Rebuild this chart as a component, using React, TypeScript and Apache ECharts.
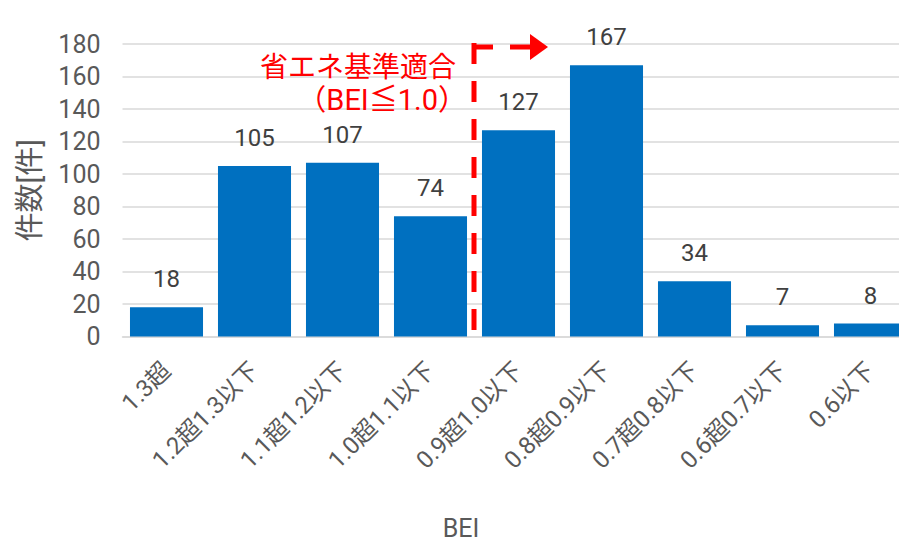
import React, { useEffect, useRef } from "react";
import * as echarts from "echarts";

const categories = [
  "1.3超",
  "1.2超1.3以下",
  "1.1超1.2以下",
  "1.0超1.1以下",
  "0.9超1.0以下",
  "0.8超0.9以下",
  "0.7超0.8以下",
  "0.6超0.7以下",
  "0.6以下",
];
const counts = [18, 105, 107, 74, 127, 167, 34, 7, 8];
const yTicks = { min: 0, max: 180, interval: 20 };
const yAxisName = "件数[件]";
const xAxisName = "BEI";
const noteLines = ["省エネ基準適合", "（BEI≦1.0）"];

const FONT = "Roboto, 'Noto Sans CJK JP', sans-serif";
const RED = "#FF0000";

export default function App() {
  const ref = useRef<HTMLDivElement>(null);
  useEffect(() => {
    document.body.style.margin = "0";
    if (!ref.current) return;
    const chart = echarts.init(ref.current, undefined, { renderer: "svg" });
    chart.setOption({
      animation: false,
      backgroundColor: "#ffffff",
      grid: {
        left: 122.5,
        top: 44,
        width: 792,
        bottom: 205.5,
        containLabel: false,
        outerBoundsMode: "none",
      },
      xAxis: {
        type: "category",
        data: categories,
        axisLine: { show: true, lineStyle: { color: "#d9d9d9", width: 1.5 } },
        axisTick: { show: false },
        axisLabel: {
          rotate: 45,
          interval: 0,
          margin: 30,
          color: "#595959",
          fontSize: 24,
          fontFamily: FONT,
        },
      },
      yAxis: {
        type: "value",
        min: yTicks.min,
        max: yTicks.max,
        interval: yTicks.interval,
        name: yAxisName,
        nameLocation: "middle",
        nameRotate: 90,
        nameGap: 78,
        nameTextStyle: { color: "#595959", fontSize: 29, fontFamily: FONT },
        axisLine: { show: false },
        axisTick: { show: false },
        axisLabel: { color: "#595959", fontSize: 25, fontFamily: FONT, margin: 22 },
        splitLine: { lineStyle: { color: "#d9d9d9", width: 1.5 } },
      },
      series: [
        {
          type: "bar",
          data: counts,
          barCategoryGap: "17%",
          itemStyle: { color: "#0070C0" },
          label: {
            show: true,
            position: "top",
            distance: 16,
            color: "#404040",
            fontSize: 24,
            fontFamily: FONT,
          },
        },
      ],
      graphic: [
        {
          type: "line",
          shape: { x1: 474, y1: 43, x2: 474, y2: 337 },
          style: { stroke: RED, lineWidth: 5, lineDash: [21, 17] },
          z: 100,
        },
        {
          type: "line",
          shape: { x1: 472, y1: 47, x2: 531, y2: 47 },
          style: { stroke: RED, lineWidth: 5, lineDash: [21, 17] },
          z: 100,
        },
        {
          type: "polygon",
          shape: { points: [[530, 34], [548, 47], [530, 60]] },
          style: { fill: RED },
          z: 100,
        },
        {
          type: "text",
          x: 456,
          y: 67,
          style: {
            text: noteLines[0],
            fill: RED,
            fontSize: 28,
            fontFamily: FONT,
            align: "right",
            verticalAlign: "middle",
          },
          z: 100,
        },
        {
          type: "text",
          x: 467,
          y: 100,
          style: {
            text: noteLines[1],
            fill: RED,
            fontSize: 29,
            fontFamily: FONT,
            align: "right",
            verticalAlign: "middle",
          },
          z: 100,
        },
        {
          type: "text",
          x: 461,
          y: 528,
          style: {
            text: xAxisName,
            fill: "#595959",
            fontSize: 25,
            fontFamily: FONT,
            align: "center",
            verticalAlign: "middle",
          },
        },
      ],
    });
    return () => chart.dispose();
  }, []);
  return <div ref={ref} style={{ width: 899, height: 542 }} />;
}
